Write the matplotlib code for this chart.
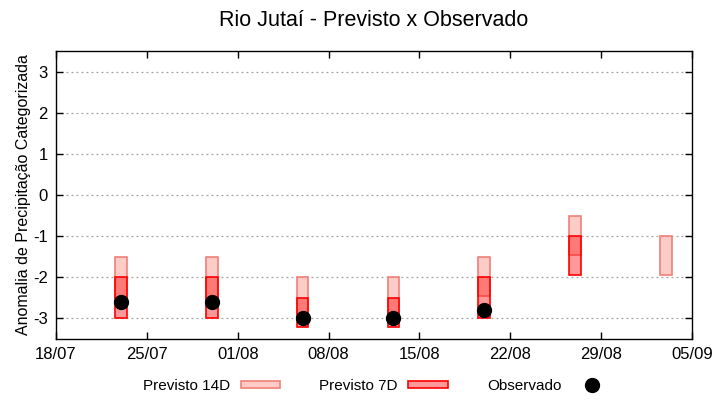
import matplotlib
matplotlib.use("Agg")
import matplotlib.pyplot as plt
import matplotlib.dates as mdates
from matplotlib.patches import Patch
from matplotlib.lines import Line2D
from datetime import datetime
import numpy as np

plt.rcParams['font.family'] = ['Liberation Sans', 'DejaVu Sans']
plt.rcParams['axes.unicode_minus'] = False

# weekly forecast dates
dates = ["23/07", "30/07", "06/08", "13/08", "20/08", "27/08", "03/09"]
prev14_top = [-1.5, -1.5, -2.0, -2.0, -1.5, -0.5, -1.0]
prev14_bot = [-2.5, -2.5, -3.0, -3.0, -2.45, -1.45, -1.95]
prev7_top = [-2.0, -2.0, -2.5, -2.5, -2.0, -1.0, np.nan]
prev7_bot = [-3.0, -3.0, -3.2, -3.2, -3.0, -1.95, np.nan]
observado = [-2.6, -2.6, -3.0, -3.0, -2.8, np.nan, np.nan]
xtick_labels = ["18/07", "25/07", "01/08", "08/08", "15/08", "22/08", "29/08", "05/09"]

year = 2023
def to_num(s):
    d, m = s.split("/")
    return mdates.date2num(datetime(year, int(m), int(d)))

x = np.array([to_num(d) for d in dates])
xticks = [to_num(d) for d in xtick_labels]

fig = plt.figure(figsize=(7.2, 4), dpi=100)
ax = fig.add_axes([56 / 720, 61 / 400, 636 / 720, 288 / 400])

top14 = np.array(prev14_top)
bot14 = np.array(prev14_bot)
top7 = np.array(prev7_top)
bot7 = np.array(prev7_bot)

c14 = (0.98, 0.5, 0.45, 0.4)
c7 = (1.0, 0.0, 0.0, 0.4)

ax.bar(x, top14 - bot14, bottom=bot14, width=0.9, color=c14,
       edgecolor="#f08078", linewidth=1.2, zorder=2)
ax.bar(x, top7 - bot7, bottom=bot7, width=0.9, color=c7,
       edgecolor="#ff0000", linewidth=1.2, zorder=3)
ax.plot(x, observado, linestyle="none", marker="o", markersize=10,
        color="black", zorder=4)

ax.set_xlim(xticks[0], xticks[-1])
ax.set_ylim(-3.5, 3.5)
ax.set_xticks(xticks)
ax.set_xticklabels(xtick_labels)
ax.set_yticks(range(-3, 4))
ax.set_yticklabels([str(v) for v in range(-3, 4)])
ax.tick_params(direction="in", top=True, right=True, length=5, width=1,
               labelsize=12, pad=6)
ax.yaxis.grid(True, linestyle=(0, (1.5, 2.5)), color="#a0a0a0", linewidth=0.9)
ax.set_axisbelow(True)
for s in ax.spines.values():
    s.set_linewidth(1)

ax.set_ylabel("Anomalia de Precipitação Categorizada", fontsize=11.5, labelpad=1)
ax.set_title("Rio Jutaí - Previsto x Observado", fontsize=15.5, pad=18)

handles = [
    Patch(facecolor=c14, edgecolor="#f08078", linewidth=1.2),
    Patch(facecolor=c7, edgecolor="#ff0000", linewidth=1.2),
    Line2D([], [], linestyle="none", marker="o", markersize=10, color="black"),
]
fig.legend(handles, ["Previsto 14D", "Previsto 7D", "Observado"],
           loc="center", bbox_to_anchor=(0.524, 0.035), ncol=3, frameon=False,
           markerfirst=False, fontsize=11, handlelength=2.6, handleheight=0.35,
           handletextpad=0.7, columnspacing=2.55)

fig.savefig("out.png", dpi=100)
